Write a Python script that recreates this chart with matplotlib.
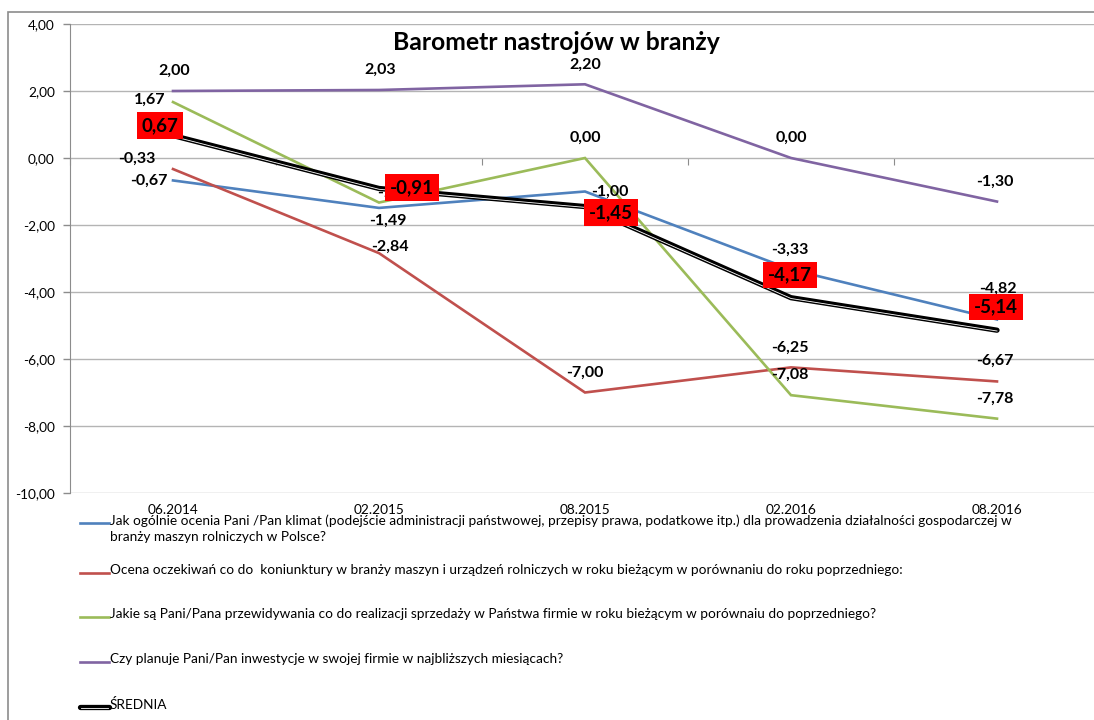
import matplotlib
matplotlib.use('Agg')
import matplotlib.pyplot as plt
from matplotlib.lines import Line2D
from matplotlib.patches import Rectangle
import matplotlib.transforms as mtransforms

plt.rcParams['font.family'] = ['Lato', 'DejaVu Sans']

# data
periods = ['06.2014', '02.2015', '08.2015', '02.2016', '08.2016']
klimat = [-0.67, -1.49, -1.00, -3.33, -4.82]
koniunktura = [-0.33, -2.84, -7.00, -6.25, -6.67]
sprzedaz = [1.67, -1.33, 0.00, -7.08, -7.78]
inwestycje = [2.00, 2.03, 2.20, 0.00, -1.30]
srednia = [0.67, -0.91, -1.45, -4.17, -5.14]

labels = [
    'Jak ogólnie ocenia Pani /Pan klimat (podejście administracji państwowej, przepisy prawa, podatkowe itp.) dla prowadzenia działalności gospodarczej w\nbranży maszyn rolniczych w Polsce?',
    'Ocena oczekiwań co do  koniunktury w branży maszyn i urządzeń rolniczych w roku bieżącym w porównaniu do roku poprzedniego:',
    'Jakie są Pani/Pana przewidywania co do realizacji sprzedaży w Państwa firmie w roku bieżącym w porównaiu do poprzedniego?',
    'Czy planuje Pani/Pan inwestycje w swojej firmie w najbliższych miesiącach?',
    'ŚREDNIA',
]

colors = ['#4F81BD', '#C0504D', '#9BBB59', '#8064A2']

# label offsets in pixels (dx, dy) - labels were hand placed in the original
off_klimat = [(-24, 0), (9, -13), (25, 0), (-1, 20), (1, 31)]
off_koniunktura = [(-36, 10), (11, 6), (0, 20), (-1, 20), (-2, 21)]
off_sprzedaz = [(-23, 2), (17, 10), (0, 20), (-1, 20), (-2, 20)]
off_inwestycje = [(1, 20), (1, 20), (0, 20), (0, 20), (-2, 20)]
off_srednia = [(-13, 10), (33, 1), (26, -6), (-1, 23), (-1, 23)]

W, H = 1094, 720
fig = plt.figure(figsize=(W / 100, H / 100), dpi=100)
ax = fig.add_axes([70 / W, 1 - 493 / H, (1100 - 70) / W, (493 - 24) / H])

# outer chart frame
fig.patches.append(Rectangle((8 / W, -0.1), 1.2, 1 - 12 / H + 0.1, transform=fig.transFigure,
                             fill=False, edgecolor='#8C8C8C', lw=1.2, zorder=0))

x = list(range(len(periods)))
series = [klimat, koniunktura, sprzedaz, inwestycje]
offsets = [off_klimat, off_koniunktura, off_sprzedaz, off_inwestycje]
for vals, c, offs in zip(series, colors, offsets):
    ax.plot(x, vals, color=c, lw=1.9, zorder=3, solid_joinstyle='miter')
    for xi, v, (dx, dy) in zip(x, vals, offs):
        ax.annotate(f'{v:.2f}'.replace('.', ','), (xi, v), xytext=(dx, dy),
                    textcoords='offset pixels', ha='center', va='center',
                    fontsize=11.5, fontweight='bold', color='black', zorder=4)

# average line: black with a thin white stripe
ax.plot(x, srednia, color='black', lw=3.8, zorder=5, solid_capstyle='round')
white_tr = mtransforms.offset_copy(ax.transData, fig=fig, x=0, y=-0.8, units='dots')
ax.plot(x, srednia, color='white', lw=0.6, zorder=6, transform=white_tr)
for xi, v, (dx, dy) in zip(x, srednia, off_srednia):
    ax.annotate(f'{v:.2f}'.replace('.', ','), (xi, v), xytext=(dx, dy),
                textcoords='offset pixels', ha='center', va='center',
                fontsize=13.5, fontweight='bold', color='black', zorder=8,
                bbox=dict(boxstyle='square,pad=0.25', fc='#FF0000', ec='none'))

ax.set_xlim(-0.5, 4.5)
ax.set_ylim(-10, 4)
ax.set_yticks(range(-10, 5, 2))
ax.set_yticklabels([f'{t:.2f}'.replace('.', ',') for t in range(-10, 5, 2)])
ax.set_xticks(x)
ax.set_xticklabels(periods)
ax.tick_params(axis='x', length=0, pad=8, labelsize=9.8)
ax.tick_params(axis='y', length=5, width=1, color='#8C8C8C', pad=6, labelsize=9.8)
ax.grid(axis='y', color='#B4B4B4', lw=1)
ax.set_axisbelow(True)
for s in ['top', 'right', 'bottom']:
    ax.spines[s].set_visible(False)
ax.spines['left'].set_color('#8C8C8C')

# category axis crossing at zero with tick marks between categories
sec = ax.secondary_xaxis(10 / 14)
sec.set_xticks([i + 0.5 for i in range(-1, 5)])
sec.tick_params(direction='out', length=5, color='#8C8C8C', labelbottom=False, labeltop=False,
                bottom=True, top=False)
sec.spines['top'].set_visible(False)
sec.spines['bottom'].set_color('#B4B4B4')

fig.text(556 / W, 1 - 42 / H, 'Barometr nastrojów w branży', ha='center', va='center',
         fontsize=17.8, fontweight='bold')

# legend drawn below the plot
ys = [523, 573, 617, 662, 707]
for i, (lab, y) in enumerate(zip(labels, ys)):
    yf = 1 - y / H
    if i < 4:
        fig.add_artist(Line2D([80 / W, 109 / W], [yf, yf], color=colors[i], lw=1.9,
                              transform=fig.transFigure))
    else:
        fig.add_artist(Line2D([80 / W, 109 / W], [yf, yf], color='black', lw=3.8,
                              solid_capstyle='round', transform=fig.transFigure))
        fig.add_artist(Line2D([81 / W, 108 / W], [yf - 0.8 / H, yf - 0.8 / H], color='white',
                              lw=0.6, transform=fig.transFigure))
    fig.text(110 / W, 1 - (y - 9) / H, lab, ha='left', va='top', fontsize=9.8,
             linespacing=1.4)

fig.savefig('out.png', dpi=100)
